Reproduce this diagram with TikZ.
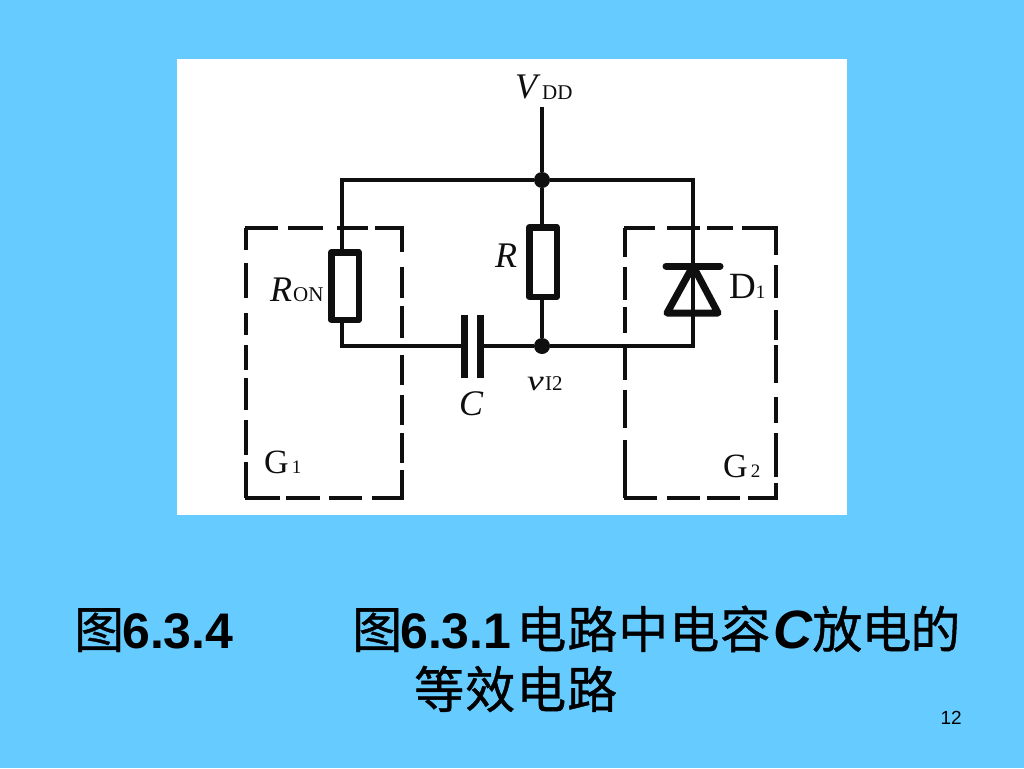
\documentclass[tikz,border=0pt]{standalone}
\usepackage{fontspec}
\setmainfont{Liberation Serif}
\newfontfamily\sansf{Liberation Sans}
\newfontfamily\cjkf{Noto Sans CJK SC}[FakeBold=0.8]
\usetikzlibrary{calc}
\definecolor{bgblue}{RGB}{102,204,255}
\definecolor{ink}{RGB}{15,15,15}
\tikzset{
  wire/.style={draw=ink,line width=3.05pt},
  resbox/.style={draw=ink,line width=6.5pt,fill=white,inner sep=0pt,minimum width=27.5pt,line join=round},
  plate/.style={draw=ink,line width=7pt},
  dbar/.style={draw=ink,line width=7pt,line cap=round,line join=round},
  dashln/.style={draw=ink,line width=3.05pt,line cap=butt},
  dot/.style={circle,fill=ink,inner sep=0pt,minimum size=16pt},
  lab/.style={inner sep=0pt,text=ink,anchor=base west},
  title/.style={inner sep=0pt,anchor=base west,text=black,font=\fontsize{50}{50}\selectfont}
}
\newcommand{\mysub}[1]{{\fontsize{19}{19}\selectfont #1}}
\newcommand{\zh}[1]{{\cjkf\mdseries #1}}
\newcommand{\lat}[1]{{\sansf\bfseries #1}}
\begin{document}
\begin{tikzpicture}[x=1pt,y=-1pt]
\useasboundingbox (0,0) rectangle (1024,768);
\fill[bgblue] (0,0) rectangle (1024,768);
\fill[white] (177,59) rectangle (847,515);
% dashed box G1
\foreach \a/\b in {244.5/278,288/323,337/368,375/403.5} \draw[dashln] (\a,228) -- (\b,228);
\foreach \a/\b in {244.5/280,286/320,329/362,372/403.5} \draw[dashln] (\a,498) -- (\b,498);
\foreach \a/\b in {228/250,263/298,313/335,345/370,378/410,420/455,462/498} \draw[dashln] (246,\a) -- (246,\b);
\foreach \a/\b in {228/252,267/298,306/338,355/385,395/425,433/463,470/498} \draw[dashln] (402,\a) -- (402,\b);
% dashed box G2
\foreach \a/\b in {623.5/655,667/700,707/733,742/777.5} \draw[dashln] (\a,228) -- (\b,228);
\foreach \a/\b in {623.5/657,667/700,707/740,748/777.5} \draw[dashln] (\a,498) -- (\b,498);
\foreach \a/\b in {228/257,267/300,307/333,347/380,390/428,440/498} \draw[dashln] (625,\a) -- (625,\b);
\foreach \a/\b in {228/255,265/298,310/340,345/383,397/423,433/477,483/498} \draw[dashln] (776,\a) -- (776,\b);
% junctions and corners
\coordinate (vdd) at (542,107);
\coordinate (tl) at (342,180);
\coordinate (tr) at (693,180);
\coordinate (bl) at (342,346);
\coordinate (br) at (693,346);
\coordinate (dtop) at (693,266);
\coordinate (dbot) at (693,313);
\coordinate (cl) at (464,346);
\coordinate (cr) at (480,346);
\node[dot] (jt) at (542,180) {};
\node[dot] (jb) at (542,346) {};
\node[resbox,minimum height=67.5pt] (ron) at (345,286) {};
\node[resbox,minimum height=69.5pt] (r) at (543,262) {};
% wires
\draw[wire] (vdd) -- (jt);
\draw[wire,line cap=square] (jt) -- (tl) -- (ron.north -| tl);
\draw[wire,line cap=square] (jt) -- (tr) -- (dtop);
\draw[wire] (jt) -- (jt |- r.north);
\draw[wire] (jb |- r.south) -- (jb);
\draw[wire,line cap=square] (ron.south -| bl) -- (bl) -- (cl);
\draw[wire,line cap=square] (cr) -- (jb) -- (br) -- (dbot);
% capacitor
\draw[plate] (464,315) -- (464,378);
\draw[plate] (480,315) -- (480,378);
% diode
\draw[wire] (dtop) -- (dbot);
\draw[dbar] (666,266) -- (720,266);
\draw[dbar] (dtop) -- (667,313) -- (718,313) -- cycle;
% labels
\node[lab,font=\fontsize{36}{36}\selectfont\itshape] (lv) at (515,98) {V};
\node[lab,font=\fontsize{21}{21}\selectfont] (ldd) at (542,99) {DD};
\node[lab,font=\fontsize{36}{36}\selectfont\itshape] (lr) at (495,267) {R};
\node[lab,font=\fontsize{36}{36}\selectfont\itshape] (lron) at (270,301) {R};
\node[lab,font=\fontsize{21}{21}\selectfont] (lon) at (293,301) {ON};
\node[lab,font=\fontsize{36}{36}\selectfont\itshape] (lc) at (459,415) {C};
\node[lab,font=\fontsize{29}{29}\selectfont\itshape] (lv2) at (527,390) {\scalebox{1.3}[1]{v}};
\node[lab,font=\fontsize{21}{21}\selectfont] (li2) at (545,390) {I2};
\node[lab,font=\fontsize{37}{37}\selectfont] (ld) at (729,298) {D\mysub{1}};
\node[lab,font=\fontsize{34}{34}\selectfont] (lg1) at (264,473) {G\kern3pt\mysub{1}};
\node[lab,font=\fontsize{34}{34}\selectfont] (lg2) at (723,477) {G\kern3pt\mysub{2}};
% caption
\node[title] (t1) at (74,648) {\zh{图}\kern-2pt\lat{6.3.4}};
\node[title] (t2) at (352,648) {\zh{图}\kern-2pt\lat{6.3.1}\kern5pt\zh{电\kern1pt 路\kern1pt 中\kern1pt 电\kern1pt 容}\kern3pt{\fontsize{54}{54}\selectfont\sansf\bfseries\itshape C}\zh{放\kern-1pt 电\kern-1pt 的}};
\node[title] (t3) at (414,708) {\zh{等\kern1pt 效\kern1pt 电\kern1pt 路}};
\node[inner sep=0pt,anchor=base east,font=\sansf\fontsize{19}{19}\selectfont] (pg) at (962,724) {12};
\end{tikzpicture}
\end{document}
